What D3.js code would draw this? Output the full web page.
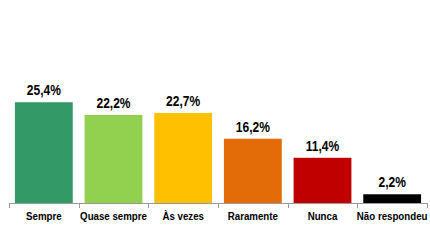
<!DOCTYPE html>
<html>
<head>
<meta charset="utf-8">
<script src="https://cdn.jsdelivr.net/npm/d3@7"></script>
<style>
  body { margin: 0; background: #fff; }
  svg { display: block; font-family: "Liberation Sans", Arial, sans-serif; }
</style>
</head>
<body>
<svg id="chart" width="430" height="243"></svg>
<script>
const categories = ['Sempre', 'Quase sempre', 'Às vezes', 'Raramente', 'Nunca', 'Não respondeu']
const values = [25.4, 22.2, 22.7, 16.2, 11.4, 2.2]
const labels = ['25,4%', '22,2%', '22,7%', '16,2%', '11,4%', '2,2%']
const colors = ['#339966', '#92D050', '#FFC000', '#E36C09', '#C00000', '#000000']

const data = categories.map((c, i) => ({ type: c, value: values[i], label: labels[i], color: colors[i] }))

const svg = d3.select('#chart')
const x0 = 9, x1 = 427, base = 203

// X scale
const xScale = d3.scaleBand()
  .domain(categories)
  .range([x0, x1])
  .paddingInner(0.17)
  .paddingOuter(0.085)

// Y scale (no axis)
const yScale = d3.scaleLinear()
  .domain([0, 30])
  .range([base, base - 119])

// baseline + ticks at band edges
svg.append('line')
  .attr('x1', x0).attr('x2', x1)
  .attr('y1', base + 0.5).attr('y2', base + 0.5)
  .attr('stroke', '#9a9a9a')

const edges = categories.map(c => xScale(c) - xScale.step() * xScale.paddingInner() / 2)
edges.push(x1)
svg.selectAll('.tick')
  .data(edges)
  .enter()
  .append('line')
  .attr('x1', d => Math.round(d) + 0.5)
  .attr('x2', d => Math.round(d) + 0.5)
  .attr('y1', base)
  .attr('y2', base + 5)
  .attr('stroke', '#9a9a9a')

// Bars
svg.selectAll('.bar')
  .data(data)
  .enter()
  .append('rect')
  .attr('class', 'bar')
  .attr('x', d => xScale(d.type))
  .attr('width', xScale.bandwidth())
  .attr('y', d => yScale(d.value))
  .attr('height', d => base - yScale(d.value))
  .attr('fill', d => d.color)

// value labels (condensed look)
svg.selectAll('.val')
  .data(data)
  .enter()
  .append('text')
  .attr('transform', d => `translate(${xScale(d.type) + xScale.bandwidth() / 2},${yScale(d.value) - 7}) scale(0.86,1)`)
  .attr('text-anchor', 'middle')
  .style('font-size', '14px')
  .style('font-weight', 'bold')
  .attr('fill', '#000')
  .text(d => d.label)

// category labels
svg.selectAll('.cat')
  .data(data)
  .enter()
  .append('text')
  .attr('transform', d => `translate(${xScale(d.type) + xScale.bandwidth() / 2},220) scale(0.845,1)`)
  .attr('text-anchor', 'middle')
  .style('font-size', '11.5px')
  .style('font-weight', 'bold')
  .attr('fill', '#000')
  .text(d => d.type)
</script>
</body>
</html>
